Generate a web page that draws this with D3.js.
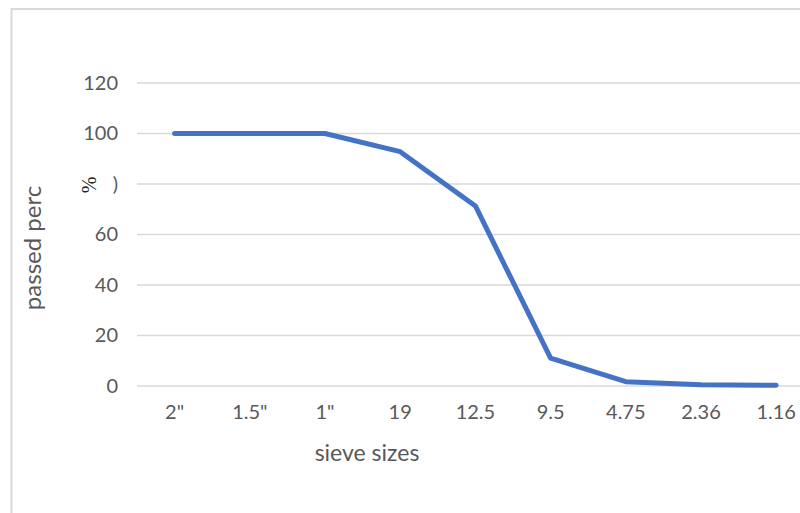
<!DOCTYPE html>
<html><head><meta charset="utf-8">
<script src="https://cdn.jsdelivr.net/npm/d3@7"></script>
<style>body{margin:0;background:#fff}svg{display:block}</style>
</head><body>
<svg id="c" width="800" height="513"></svg>
<script>
const categories = ['2"', '1.5"', '1"', '19', '12.5', '9.5', '4.75', '2.36', '1.16'];
const passedPercent = [100, 100, 100, 92.8, 71.3, 11, 1.7, 0.5, 0.3];
const yTickValues = [0, 20, 40, 60, 80, 100, 120];
const yTickLabels = ['0', '20', '40', '60', ')', '100', '120'];
const xTitle = 'sieve sizes';
const yTitle = 'passed perc';
const yTitleExtra = '%';

const svg = d3.select('#c');
const font = 'Lato, "Open Sans", sans-serif';
const grey = '#595959';

// chart border (partly outside view)
svg.append('rect').attr('x', 11.5).attr('y', 9).attr('width', 820).attr('height', 540)
  .attr('fill', 'none').attr('stroke', '#d9d9d9').attr('stroke-width', 2);

const x = d3.scaleBand().domain(categories).range([137, 813.8]);
const y = d3.scaleLinear().domain([0, 120]).range([386, 83]);

const grid = svg.append('g');
grid.selectAll('line').data(yTickValues).join('line')
  .attr('x1', 137).attr('x2', 800)
  .attr('y1', d => y(d)).attr('y2', d => y(d))
  .attr('stroke', '#d9d9d9').attr('stroke-width', 1.5);

const yAxis = d3.axisLeft(y).tickValues(yTickValues)
  .tickFormat((d, i) => yTickLabels[i]).tickSize(0).tickPadding(0);
const ya = svg.append('g').attr('transform', 'translate(118,0)').call(yAxis);
ya.select('.domain').remove();
ya.selectAll('text').attr('fill', grey).style('font-family', font).style('font-size', '20px');

const xAxis = d3.axisBottom(x).tickSize(0).tickPadding(0);
const xa = svg.append('g').attr('transform', 'translate(0,405)').call(xAxis);
xa.select('.domain').remove();
xa.selectAll('text').attr('fill', grey).style('font-family', font).style('font-size', '20px');

const line = d3.line().x((d, i) => x(categories[i]) + x.bandwidth() / 2).y(d => y(d));
svg.append('path').datum(passedPercent).attr('d', line)
  .attr('fill', 'none').attr('stroke', '#4472C4').attr('stroke-width', 5)
  .attr('stroke-linecap', 'round').attr('stroke-linejoin', 'round');

svg.append('text').attr('x', 367).attr('y', 461).attr('text-anchor', 'middle')
  .attr('fill', grey).style('font-family', font).style('font-size', '23px').text(xTitle);

svg.append('text').attr('transform', 'translate(41,248) rotate(-90)').attr('text-anchor', 'middle')
  .attr('fill', grey).style('font-family', font).style('font-size', '24px').text(yTitle);

svg.append('text').attr('transform', 'translate(96,185) rotate(-90)').attr('text-anchor', 'middle')
  .attr('fill', '#222').style('font-family', '"Liberation Serif", serif').style('font-size', '20px').text(yTitleExtra);
</script>
</body></html>
